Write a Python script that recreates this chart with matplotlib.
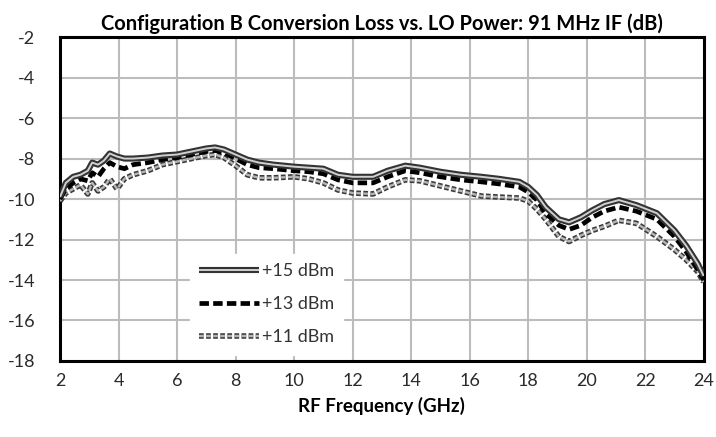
import matplotlib
matplotlib.use("Agg")
import matplotlib.pyplot as plt
import matplotlib.patheffects as pe

plt.rcParams["font.family"] = ["Lato", "DejaVu Sans"]
plt.rcParams["axes.unicode_minus"] = False

freq = [2.0, 2.2, 2.45, 2.7, 2.95, 3.1, 3.3, 3.5, 3.7, 3.95, 4.2, 4.5, 5.0, 5.5, 6.0,
        6.5, 7.0, 7.3, 7.6, 8.0, 8.4, 8.8, 9.3, 10.0, 10.5, 11.0, 11.5, 12.0, 12.7,
        13.2, 13.8, 14.3, 15.0, 15.7, 16.4, 17.0, 17.7, 18.0, 18.3, 18.6, 19.05,
        19.4, 19.8, 20.2, 20.6, 21.1, 21.7, 22.4, 23.0, 23.4, 23.8, 24.0]

lo15 = [-9.9, -9.2, -8.9, -8.8, -8.6, -8.2, -8.3, -8.1, -7.75, -7.9, -8.0, -8.0, -7.95,
        -7.85, -7.8, -7.65, -7.5, -7.45, -7.55, -7.8, -8.05, -8.2, -8.3, -8.4, -8.45,
        -8.5, -8.8, -8.9, -8.9, -8.6, -8.35, -8.45, -8.65, -8.8, -8.9, -9.0, -9.15,
        -9.4, -9.8, -10.4, -11.0, -11.15, -10.9, -10.55, -10.25, -10.05, -10.3, -10.7,
        -11.55, -12.3, -13.2, -13.8]

lo13 = [-10.0, -9.5, -9.2, -9.0, -9.1, -8.7, -8.9, -8.5, -8.2, -8.4, -8.5, -8.3, -8.2,
        -8.05, -7.95, -7.8, -7.65, -7.6, -7.7, -8.0, -8.3, -8.45, -8.5, -8.6, -8.65,
        -8.75, -9.05, -9.2, -9.2, -8.9, -8.6, -8.7, -8.9, -9.05, -9.15, -9.25, -9.4,
        -9.65, -10.05, -10.7, -11.3, -11.5, -11.3, -10.9, -10.6, -10.4, -10.6, -11.0,
        -11.85, -12.6, -13.5, -14.0]

lo11 = [-10.1, -9.7, -9.5, -9.3, -9.75, -9.2, -9.6, -9.4, -9.0, -9.5, -9.0, -8.8, -8.6,
        -8.3, -8.15, -8.0, -7.85, -7.8, -7.95, -8.35, -8.8, -8.95, -8.95, -8.9, -9.0,
        -9.2, -9.55, -9.7, -9.75, -9.4, -9.05, -9.1, -9.35, -9.6, -9.85, -9.9, -9.95,
        -10.1, -10.5, -11.0, -11.85, -12.1, -11.8, -11.55, -11.35, -11.05, -11.2,
        -11.85, -12.5, -13.0, -13.6, -14.1]

labels = ["+15 dBm", "+13 dBm", "+11 dBm"]
xticks = list(range(2, 25, 2))
yticks = list(range(-18, -1, 2))

fig = plt.figure(figsize=(7.16, 4.37), dpi=100)
ax = fig.add_axes([0.0838, 0.174, 0.899, 0.741])

ax.plot(freq, lo15, color="#d0d0d0", lw=1.4, solid_capstyle="butt",
        path_effects=[pe.Stroke(linewidth=4.4, foreground="#333333"), pe.Normal()],
        label=labels[0], zorder=5)
ax.plot(freq, lo13, color="black", lw=3.4, linestyle=(0, (2.0, 0.9)),
        label=labels[1], zorder=4)
ax.plot(freq, lo11, color="#b5b5b5", lw=1.7, linestyle=(0, (2.0, 1.0)),
        path_effects=[pe.Stroke(linewidth=4.0, foreground="#3a3a3a"), pe.Normal()],
        label=labels[2], zorder=3)

ax.set_xlim(2, 24)
ax.set_ylim(-18, -2)
ax.set_xticks(xticks)
ax.set_yticks(yticks)
ax.grid(True, color="#bcbcbc", lw=1.5)
ax.set_axisbelow(True)
ax.tick_params(axis="both", length=0, labelsize=13, colors="#2a2a2a")
ax.tick_params(axis="y", pad=18)
ax.tick_params(axis="x", pad=9)
for s in ax.spines.values():
    s.set_linewidth(2.2)
    s.set_color("black")

ax.set_title("Configuration B Conversion Loss vs. LO Power: 91 MHz IF (dB)",
             fontsize=14.5, fontweight="bold", pad=5)
ax.set_xlabel("RF Frequency (GHz)", fontsize=13.5, fontweight="bold", labelpad=5)

leg = ax.legend(loc="lower left", bbox_to_anchor=(0.188, -0.008), frameon=True,
                fancybox=False, edgecolor="white", framealpha=1.0,
                fontsize=13, handlelength=3.3, handletextpad=0.2,
                labelspacing=0.95, borderpad=0.5)
for t in leg.get_texts():
    t.set_color("#333333")

fig.savefig("out.png", dpi=100)
